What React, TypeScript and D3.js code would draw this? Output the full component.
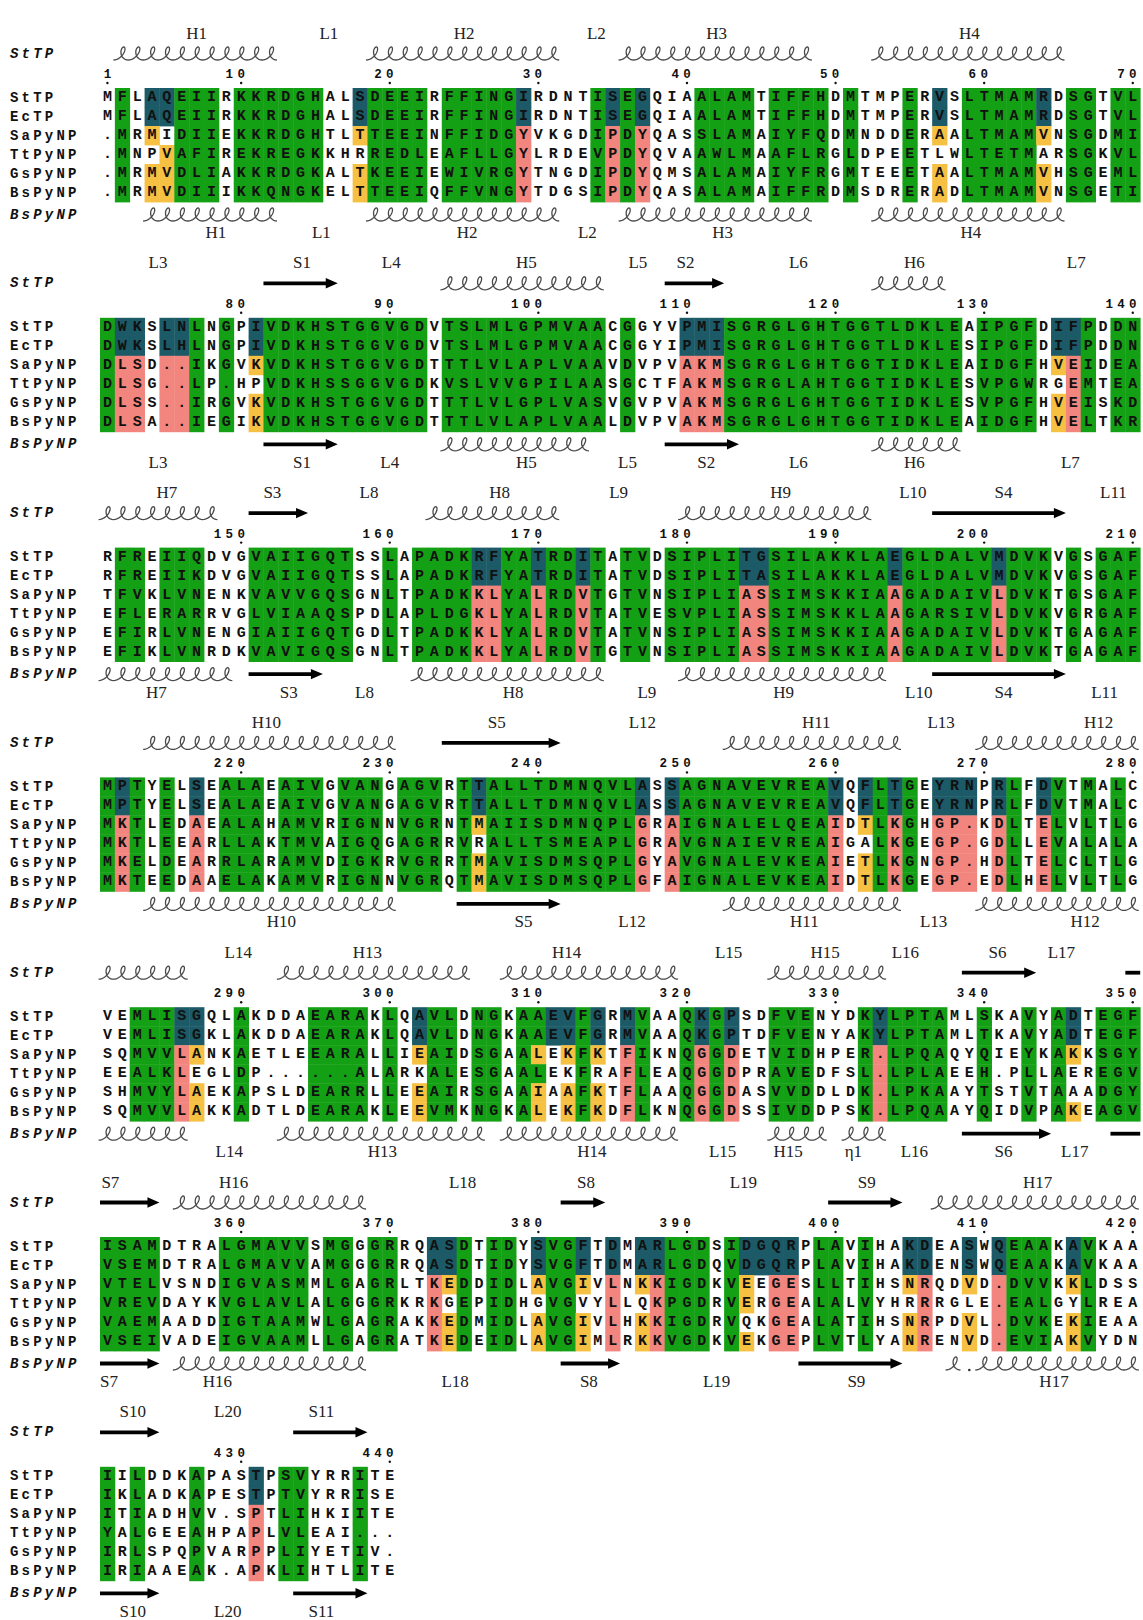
import React from "react";
import { scaleLinear, line } from "d3";

const W = 1143;
const H = 1620;
const LEFT = 100;
const CW = 14.86;
const ROW = 19;
const TOP0 = 97.5;
const BLOCK_STEP = 229.8;

const GREEN = "#14a014";
const TEAL = "#1b5a66";
const PINK = "#f2857e";
const YELLOW = "#f6c043";
const MONO = "'Liberation Mono', 'DejaVu Sans Mono', monospace";
const SERIF = "'Liberation Serif', 'DejaVu Serif', serif";

// first residue of each alignment block
const BLOCK_STARTS = [1, 71, 141, 211, 281, 351, 421];
const ROW_NAMES = ["StTP", "EcTP", "SaPyNP", "TtPyNP", "GsPyNP", "BsPyNP"];

const SEQ_StTP = [
  "MFLAQEIIRK KRDGHALSDE EIRFFINGIR DNTISEGQIA ALAMTIFFHD MTMPERVSLT MAMRDSGTVL",
  "DWKSLNLNGP IVDKHSTGGV GDVTSLMLGP MVAACGGYVP MISGRGLGHT GGTLDKLEAI PGFDIFPDDN",
  "RFREIIQDVG VAIIGQTSSL APADKRFYAT RDITATVDSI PLITGSILAK KLAEGLDALV MDVKVGSGAF",
  "MPTYELSEAL AEAIVGVANG AGVRTTALLT DMNQVLASSA GNAVEVREAV QFLTGEYRNP RLFDVTMALC",
  "VEMLISGQLA KDDAEARAKL QAVLDNGKAA EVFGRMVAAQ KGPSDFVENY DKYLPTAMLS KAVYADTEGF",
  "ISAMDTRALG MAVVSMGGGR RQASDTIDYS VGFTDMARLG DSIDGQRPLA VIHAKDEASW QEAAKAVKAA",
  "IILDDKAPAS TPSVYRRITE",
];
const SEQ_EcTP = [
  "MFLAQEIIRK KRDGHALSDE EIRFFINGIR DNTISEGQIA ALAMTIFFHD MTMPERVSLT MAMRDSGTVL",
  "DWKSLHLNGP IVDKHSTGGV GDVTSLMLGP MVAACGGYIP MISGRGLGHT GGTLDKLESI PGFDIFPDDN",
  "RFREIIKDVG VAIIGQTSSL APADKRFYAT RDITATVDSI PLITASILAK KLAEGLDALV MDVKVGSGAF",
  "MPTYELSEAL AEAIVGVANG AGVRTTALLT DMNQVLASSA GNAVEVREAV QFLTGEYRNP RLFDVTMALC",
  "VEMLISGKLA KDDAEARAKL QAVLDNGKAA EVFGRMVAAQ KGPTDFVENY AKYLPTAMLT KAVYADTEGF",
  "VSEMDTRALG MAVVAMGGGR RQASDTIDYS VGFTDMARLG DQVDGQRPLA VIHAKDENSW QEAAKAVKAA",
  "IKLADKAPES TPTVYRRISE",
];
const SEQ_SaPyNP = [
  ".MRMIDIIEK KRDGHTLTTE EINFFIDGYV KGDIPDYQAS SLAMAIYFQD MNDDERAALT MAMVNSGDMI",
  "DLSD..IKGV KVDKHSTGGV GDTTTLVLAP LVAAVDVPVA KMSGRGLGHT GGTIDKLEAI DGFHVEIDEA",
  "TFVKLVNENK VAVVGQSGNL TPADKKLYAL RDVTGTVNSI PLIASSIMSK KIAAGADAIV LDVKTGSGAF",
  "MKTLEDAEAL AHAMVRIGNN VGRNTMAIIS DMNQPLGRAI GNALELQEAI DTLKGHGP.K DLTELVLTLG",
  "SQMVVLANKA ETLEEARALL IEAIDSGAAL EKFKTFIKNQ GGDETVIDHP ER.LPQAQYQ IEYKAKKSGY",
  "VTELVSNDIG VASMMLGAGR LTKEDDIDLA VGIVLNKKIG DKVEEGESLL TIHSNRQDVD .DVVKKLDSS",
  "ITIADHVV.S PTLIHKIITE",
];
const SEQ_TtPyNP = [
  ".MNPVAFIRE KREGKKHRRE DLEAFLLGYL RDEVPDYQVA AWLMAAFLRG LDPEETLWLT ETMARSGKVL",
  "DLSG..LP.H PVDKHSSGGV GDKVSLVVGP ILAASGCTFA KMSGRGLAHT GGTIDKLESV PGWRGEMTEA",
  "EFLERARRVG LVIAAQSPDL APLDGKLYAL RDVTATVESV PLIASSIMSK KLAAGARSIV LDVKVGRGAF",
  "MKTLEEARLL AKTMVAIGQG AGRRVRALLT SMEAPLGRAV GNAIEVREAI GALKGEGP.G DLLEVALALA",
  "EEALKLEGLD P......ALA RKALESGAAL EKFRAFLEAQ GGDPRAVEDF SL.LPLAEEH .PLLAEREGV",
  "VREVDAYKVG LAVLALGGGR KRKGEPIDHG VGVYLLQKPG DRVERGEALA LVYHRRRGLE .EALGYLREA",
  "YALGEEAHPA PLVLEAI...",
];
const SEQ_GsPyNP = [
  ".MRMVDLIAK KRDGKALTKE EIEWIVRGYT NGDIPDYQMS ALAMAIYFRG MTEEETAALT MAMVHSGEML",
  "DLSS..IRGV KVDKHSTGGV GDTTTLVLGP LVASVGVPVA KMSGRGLGHT GGTIDKLESV PGFHVEISKD",
  "EFIRLVNENG IAIIGQTGDL TPADKKLYAL RDVTATVNSI PLIASSIMSK KIAAGADAIV LDVKTGAGAF",
  "MKELDEARRL ARAMVDIGKR VGRRTMAVIS DMSQPLGYAV GNALEVKEAI ETLKGNGP.H DLTELCLTLG",
  "SHMVYLAEKA PSLDEARRLL EEAIRSGAAI AAFKTFLAAQ GGDASVVDDL DK.LPKAAYT STVTAAADGY",
  "VAEMAADDIG TAAMWLGAGR AKKEDMIDLA VGIVLHKKIG DRVQKGEALA TIHSNRPDVL .DVKEKIEAA",
  "IRLSPQPVAR PPLIYETIV.",
];
const SEQ_BsPyNP = [
  ".MRMVDIIIK KQNGKELTTE EIQFFVNGYT DGSIPDYQAS ALAMAIFFRD MSDRERADLT MAMVNSGETI",
  "DLSA..IEGI KVDKHSTGGV GDTTTLVLAP LVAALDVPVA KMSGRGLGHT GGTIDKLEAI DGFHVELTKR",
  "EFIKLVNRDK VAVIGQSGNL TPADKKLYAL RDVTGTVNSI PLIASSIMSK KIAAGADAIV LDVKTGAGAF",
  "MKTEEDAAEL AKAMVRIGNN VGRQTMAVIS DMSQPLGFAI GNALEVKEAI DTLKGEGP.E DLHELVLTLG",
  "SQMVVLAKKA DTLDEARAKL EEVMKNGKAL EKFKDFLKNQ GGDSSIVDDP SK.LPQAAYQ IDVPAKEAGV",
  "VSEIVADEIG VAAMLLGAGR ATKEDEIDLA VGIMLRKKVG DKVEKGEPLV TLYANRENVD .EVIAKVYDN",
  "IRIAAEAK.A PKLIHTLITE",
];

// shaded residue columns (single residues or [from, to] ranges)
const GREEN_COLS = [
  2, [6, 8], [10, 15], [19, 22], [24, 28], 34, 36, [41, 44], [46, 49], 51, 55, [59, 63], [66, 67], [69, 70],
  71, 77, 79, [82, 92], [94, 104], 106, [113, 128], [130, 133], 137, [139, 140],
  [142, 143], [145, 147], [151, 157], 160, [162, 165], [168, 169], [171, 172], 174, [176, 177], [179, 183],
  [186, 193], [195, 200], [202, 204], 206, [208, 210],
  211, 213, 215, [219, 221], [223, 225], [227, 229], [231, 233], 235, [237, 246], [250, 259], 263, 265, 272, 275, 277, 279,
  [283, 285], 290, [295, 298], 300, [303, 304], [306, 307], [309, 310], 313, 317, 320, 322, [326, 328], 332,
  [334, 337], 340, 343, 345, [348, 350],
  [351, 354], [359, 364], [366, 367], [369, 370], 375, [377, 378], [381, 382], [389, 391], 393, [399, 400], 402,
  [412, 414], 417,
  421, 423, 427, [433, 434], 438,
];
// StTP / EcTP positions that differ from the PyNP group
const TEAL_COLS = [
  [4, 5], 18, 29, 35, 37, 57, 64,
  [72, 73], [75, 76], 81, [110, 112], [135, 136],
  [166, 167], 170, 173, [184, 185], 194, 201,
  212, 217, 236, 247, 249, 260, 262, 264, [267, 269], 271, 274,
  [286, 287], 302, [311, 312], 314, 316, 321, 323, 333, 346,
  [373, 374], 380, 383, 385, [387, 388], [394, 397], [405, 406], 409, 411, 416,
  431,
];
const PINK_COLS = [
  29, 35, 37,
  [72, 73], [75, 76], [110, 112], 136,
  [166, 167], 170, 173, [184, 185], 194, 201,
  212, 217, 247, 249, 260, 264, [267, 269], 271, 274,
  286, 316, 321, 323, 333,
  373, 385, 388, [396, 397], 406, 411,
  431,
];
const YELLOW_Sa = [4, 18, 57, 64, 81, 135, 236, 262, 287, 302, 310, 312, 314, 346, 374, 380, 383, 387, 394, 405, 409, 416];
const YELLOW_Tt = [5, 394];
const YELLOW_Gs = [4, 5, 18, 57, 64, 81, 135, 236, 262, 287, 302, 310, 312, 314, 374, 380, 383, 387, 405, 409, 416];
const YELLOW_Bs = [4, 5, 18, 57, 64, 81, 135, 236, 262, 287, 302, 310, 312, 314, 346, 374, 380, 383, 387, 394, 405, 409, 416];

// secondary structure: H helix, S strand, B bar, D dot
const SS_StTP = [
  ["H", 2, 12], ["H", 19, 31], ["H", 36, 48], ["H", 53, 65],
  ["S", 82, 86], ["H", 94, 104], ["S", 109, 112], ["H", 123, 127],
  ["H", 141, 148], ["S", 151, 154], ["H", 163, 171], ["H", 180, 192], ["S", 197, 205],
  ["H", 214, 230], ["S", 234, 241], ["H", 253, 264], ["H", 270, 280],
  ["H", 281, 286], ["H", 293, 305], ["H", 308, 319], ["H", 326, 333], ["S", 339, 343], ["B", 350, 350],
  ["S", 351, 354], ["H", 356, 368], ["S", 382, 384], ["S", 400, 404], ["H", 407, 420],
  ["S", 421, 424], ["S", 434, 438],
];
const SS_BsPyNP = [
  ["H", 4, 12], ["H", 19, 31], ["H", 36, 48], ["H", 53, 65],
  ["S", 82, 86], ["H", 94, 103], ["S", 109, 113], ["H", 123, 128],
  ["H", 141, 149], ["S", 151, 155], ["H", 162, 174], ["H", 180, 193], ["S", 197, 205],
  ["H", 214, 230], ["S", 235, 241], ["H", 253, 264], ["H", 270, 280],
  ["H", 281, 286], ["H", 293, 306], ["H", 308, 319], ["H", 326, 329], ["H", 331, 333], ["S", 339, 344], ["B", 349, 350],
  ["S", 351, 354], ["H", 356, 368], ["S", 382, 385], ["S", 398, 404], ["H", 408, 408], ["D", 409, 409], ["H", 410, 420],
  ["S", 421, 424], ["S", 434, 438],
];

// element names and where they sit along the sequence
const LABELS_StTP = [
  ["H1", 7], ["L1", 15.9], ["H2", 25], ["L2", 33.9], ["H3", 42], ["H4", 59],
  ["L3", 74.4], ["S1", 84.1], ["L4", 90.1], ["H5", 99.2], ["L5", 106.7], ["S2", 109.9], ["L6", 117.5], ["H6", 125.3], ["L7", 136.2],
  ["H7", 145], ["S3", 152.1], ["L8", 158.6], ["H8", 167.4], ["L9", 175.4], ["H9", 186.3], ["L10", 195.2], ["S4", 201.3], ["L11", 208.7],
  ["H10", 221.7], ["S5", 237.2], ["L12", 247], ["H11", 258.7], ["L13", 267.1], ["H12", 277.7],
  ["L14", 289.8], ["H13", 298.5], ["H14", 311.9], ["L15", 322.8], ["H15", 329.3], ["L16", 334.7], ["S6", 340.9], ["L17", 345.2],
  ["S7", 351.2], ["H16", 359.5], ["L18", 374.9], ["S8", 383.2], ["L19", 393.8], ["S9", 402.1], ["H17", 413.6],
  ["S10", 422.7], ["L20", 429.1], ["S11", 435.4],
];
const LABELS_BsPyNP = [
  ["H1", 8.3], ["L1", 15.4], ["H2", 25.2], ["L2", 33.3], ["H3", 42.4], ["H4", 59.1],
  ["L3", 74.4], ["S1", 84.1], ["L4", 90], ["H5", 99.2], ["L5", 106], ["S2", 111.3], ["L6", 117.5], ["H6", 125.3], ["L7", 135.8],
  ["H7", 144.3], ["S3", 153.2], ["L8", 158.3], ["H8", 168.3], ["L9", 177.3], ["H9", 186.5], ["L10", 195.6], ["S4", 201.3], ["L11", 208.1],
  ["H10", 222.7], ["S5", 239], ["L12", 246.3], ["H11", 257.9], ["L13", 266.6], ["H12", 276.8],
  ["L14", 289.2], ["H13", 299.5], ["H14", 313.6], ["L15", 322.4], ["H15", 326.8], ["η1", 331.2], ["L16", 335.3], ["S6", 341.3], ["L17", 346.1],
  ["S7", 351.1], ["H16", 358.4], ["L18", 374.4], ["S8", 383.4], ["L19", 392], ["S9", 401.4], ["H17", 414.7],
  ["S10", 422.7], ["L20", 429.1], ["S11", 435.4],
];

const NUMBER_TICKS = [1, 10, 20, 30, 40, 50, 60, 70, 80, 90, 100, 110, 120, 130, 140, 150, 160, 170, 180, 190, 200,
  210, 220, 230, 240, 250, 260, 270, 280, 290, 300, 310, 320, 330, 340, 350, 360, 370, 380, 390, 400, 410, 420, 430, 440];

const SEQUENCES = [SEQ_StTP, SEQ_EcTP, SEQ_SaPyNP, SEQ_TtPyNP, SEQ_GsPyNP, SEQ_BsPyNP].map((b) =>
  b.join("").replace(/ /g, "")
);
const SEQ_LEN = SEQUENCES[0].length;

function expand(list) {
  const s = new Set();
  list.forEach((d) => {
    if (Array.isArray(d)) for (let i = d[0]; i <= d[1]; i++) s.add(i);
    else s.add(d);
  });
  return s;
}
const greenSet = expand(GREEN_COLS);
const tealSet = expand(TEAL_COLS);
const pinkSet = expand(PINK_COLS);
const yellowSets = [null, null, expand(YELLOW_Sa), expand(YELLOW_Tt), expand(YELLOW_Gs), expand(YELLOW_Bs)];

function shade(row, res) {
  if (row < 2 && tealSet.has(res)) return TEAL;
  if (row >= 2 && pinkSet.has(res)) return PINK;
  if (row >= 2 && yellowSets[row].has(res)) return YELLOW;
  if (greenSet.has(res)) return GREEN;
  return null;
}

const blockOf = (res) => {
  let b = 0;
  BLOCK_STARTS.forEach((s, i) => {
    if (res >= s) b = i;
  });
  return b;
};
const xScales = BLOCK_STARTS.map((s) =>
  scaleLinear().domain([s - 0.5, s + 69.5]).range([LEFT, LEFT + 70 * CW])
);
const blockY = (b) => TOP0 + b * BLOCK_STEP;
const OFF = { label: -64.5, ss: -44, num: -22.5, dot: -14.5, bss: 5 * ROW + 22, blabel: 135 };

// helix coil: one loop per residue, slightly slanted like a written "l"
const DX = 5;
const DY = 6.5;
const SLANT = 0.22;
function helixD(xl, n, yc) {
  const r = CW / (2 * Math.PI);
  const pts = [];
  const steps = 28 * n;
  for (let i = 0; i <= steps; i++) {
    const t = Math.PI + (2 * Math.PI * n * i) / steps;
    const y = yc - DY * Math.cos(t);
    pts.push([xl + r * (t - Math.PI) - DX * Math.sin(t) + SLANT * (yc - y), y]);
  }
  return line()(pts);
}

function SSRow({ elements, labels, offSS, offLabel }) {
  const out = [];
  elements.forEach(([k, f, t], i) => {
    const b = blockOf(f);
    const x = xScales[b];
    const yc = blockY(b) + offSS;
    const xl = x(f - 0.5);
    const xr = x(t + 0.5);
    if (k === "H") {
      out.push(<path key={"h" + i} d={helixD(xl, t - f + 1, yc)} fill="none" stroke="#4a4a4a" strokeWidth={1.3} />);
    } else if (k === "S") {
      const head = 12;
      const pts = [
        [xl, yc - 1.9], [xr - head, yc - 1.9], [xr - head, yc - 5.2], [xr, yc],
        [xr - head, yc + 5.2], [xr - head, yc + 1.9], [xl, yc + 1.9],
      ];
      out.push(<polygon key={"s" + i} points={pts.map((p) => p.join(",")).join(" ")} fill="#000" />);
    } else if (k === "B") {
      out.push(<rect key={"b" + i} x={xl} y={yc - 1.9} width={xr - xl} height={3.8} fill="#000" />);
    } else if (k === "D") {
      out.push(<circle key={"d" + i} cx={x(f)} cy={yc + DY} r={1.3} fill="#333" />);
    }
  });
  labels.forEach(([txt, at], i) => {
    const b = blockOf(Math.round(at));
    out.push(
      <text key={"l" + i} x={xScales[b](at)} y={blockY(b) + offLabel} textAnchor="middle" dominantBaseline="central"
        fontFamily={SERIF} fontSize={17} fill="#222">
        {txt}
      </text>
    );
  });
  return <g>{out}</g>;
}

export default function App() {
  const cells = [];
  const letters = [];
  SEQUENCES.forEach((seq, row) => {
    for (let res = 1; res <= seq.length; res++) {
      const b = blockOf(res);
      const x = xScales[b];
      const y = blockY(b) + row * ROW;
      const c = shade(row, res);
      if (c) {
        cells.push(<rect key={`c${row}-${res}`} x={x(res - 0.5)} y={y - ROW / 2} width={CW + 0.4} height={ROW + 0.4} fill={c} />);
      }
      letters.push(
        <text key={`t${row}-${res}`} x={x(res)} y={y} textAnchor="middle" dominantBaseline="central">
          {seq[res - 1]}
        </text>
      );
    }
  });

  const names = [];
  BLOCK_STARTS.forEach((s, b) => {
    const y0 = blockY(b);
    ROW_NAMES.forEach((n, row) => {
      names.push(
        <text key={`n${b}-${row}`} x={10} y={y0 + row * ROW} dominantBaseline="central" letterSpacing={3.2}>
          {n}
        </text>
      );
    });
    names.push(
      <text key={`it${b}`} x={10} y={y0 + OFF.ss} dominantBaseline="central" letterSpacing={3.2} fontStyle="italic">
        StTP
      </text>,
      <text key={`ib${b}`} x={10} y={y0 + OFF.bss} dominantBaseline="central" letterSpacing={3.2} fontStyle="italic">
        BsPyNP
      </text>
    );
  });

  const ticks = [];
  NUMBER_TICKS.filter((n) => n <= SEQ_LEN).forEach((n) => {
    const b = blockOf(n);
    const xc = xScales[b](n);
    const y0 = blockY(b);
    const digits = String(n).split("");
    digits.forEach((d, j) => {
      ticks.push(
        <text key={`d${n}-${j}`} x={xc - (digits.length - 1 - j) * 11.8} y={y0 + OFF.num} textAnchor="middle"
          dominantBaseline="central" fontSize={12.5}>
          {d}
        </text>
      );
    });
    ticks.push(<circle key={`dot${n}`} cx={xc} cy={y0 + OFF.dot} r={1.2} fill="#111" />);
  });

  return (
    <svg width={W} height={H} viewBox={`0 0 ${W} ${H}`}
      style={{ position: "absolute", left: 0, top: 0, background: "#fff" }}>
      <rect width={W} height={H} fill="#fff" />
      <g>{cells}</g>
      <g fontFamily={MONO} fontWeight="bold" fontSize={15} fill="#111">{letters}</g>
      <g fontFamily={MONO} fontWeight="bold" fontSize={14} fill="#111">{names}</g>
      <g fontFamily={MONO} fontWeight="bold" fill="#111">{ticks}</g>
      <SSRow elements={SS_StTP} labels={LABELS_StTP} offSS={OFF.ss} offLabel={OFF.label} />
      <SSRow elements={SS_BsPyNP} labels={LABELS_BsPyNP} offSS={OFF.bss} offLabel={OFF.blabel} />
    </svg>
  );
}
